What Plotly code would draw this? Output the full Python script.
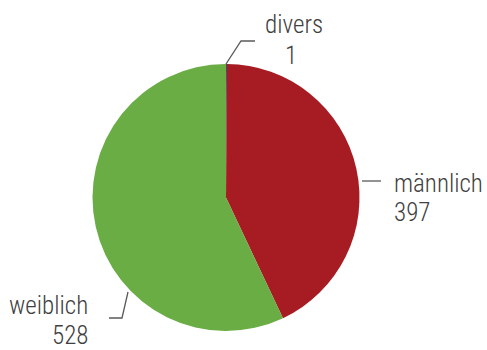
import plotly.graph_objects as go

labels = ["divers", "männlich", "weiblich"]
values = [1, 397, 528]
colors = ["#1F3864", "#A61C22", "#6AAD45"]

W, H = 487, 350
FONT = "Roboto Condensed, Liberation Sans Narrow, Arial Narrow, sans-serif"

def px(x):
    return x / W

def py(y):
    return 1 - y / H

fig = go.Figure(go.Pie(
    labels=labels, values=values, sort=False, direction="clockwise", rotation=0,
    marker=dict(colors=colors, line=dict(width=0)),
    textinfo="none", hoverinfo="label+value", showlegend=False,
    domain=dict(x=[px(92.5), px(359.5)], y=[py(331), py(64)]),
))

label_specs = [
    # (label, value, x_name, x_val, y_name, y_val, xanchor)
    ("divers", 1, 294, 291, 25, 55, "center"),
    ("männlich", 397, 392, 392, 183, 212, "left"),
    ("weiblich", 528, 90, 90, 305, 335, "right"),
]
anns = []
for lab, val, xn, xv, yn, yv, xa in label_specs:
    anns.append(dict(x=px(xn), y=py(yn), xref="paper", yref="paper", text=lab,
                     showarrow=False, xanchor=xa, yanchor="middle",
                     font=dict(family=FONT, size=25, color="#404040", weight=300)))
    anns.append(dict(x=px(xv), y=py(yv), xref="paper", yref="paper", text=str(val),
                     showarrow=False, xanchor=xa, yanchor="middle",
                     font=dict(family=FONT, size=25, color="#404040", weight=300)))

leaders = [
    [(226, 64), (241, 41), (255, 41)],
    [(362, 181), (381, 181)],
    [(128, 292), (122, 318), (109, 318)],
]
shapes = []
for pts in leaders:
    path = "M " + " L ".join(f"{px(a)},{py(b)}" for a, b in pts)
    shapes.append(dict(type="path", path=path, xref="paper", yref="paper",
                       line=dict(color="#595959", width=1.3)))

fig.update_layout(width=W, height=H, margin=dict(l=0, r=0, t=0, b=0),
                  paper_bgcolor="white", plot_bgcolor="white",
                  annotations=anns, shapes=shapes)
fig.write_html("out.html")
